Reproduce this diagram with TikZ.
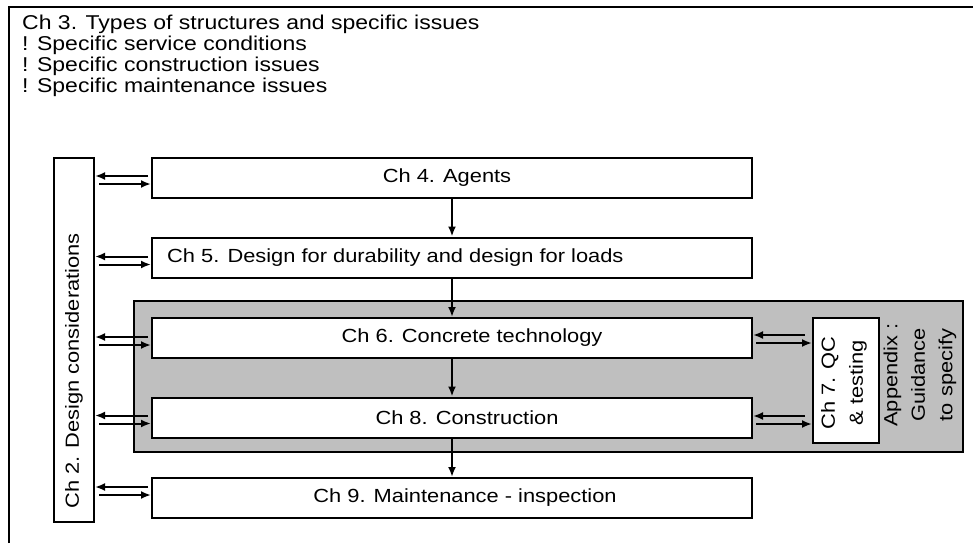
\documentclass[tikz,border=0pt]{standalone}
\usepackage{fontspec}
\setmainfont[FakeStretch=1.15]{Liberation Sans}
\usetikzlibrary{arrows.meta}

\tikzset{
  chbox/.style={draw, line width=2pt, fill=white, minimum width=600, minimum height=40, inner sep=0},
  chtext/.style={font=\fontsize{19}{22}\selectfont, inner sep=0},
  arr/.style={line width=2pt, -{Latex[length=10pt,width=8pt]}}
}

\begin{document}
\begin{tikzpicture}[x=1pt,y=-1pt]
  \useasboundingbox (0,0) rectangle (973,543);
  % outer frame, cut off at the page edges
  \draw[line width=2pt] (9,543) -- (9,7) -- (973,7);
  \node[chtext, anchor=north west, align=left, font=\fontsize{20}{21}\selectfont] (ch3) at (22,15)
    {Ch 3. Types of structures and specific issues\\! Specific service conditions\\! Specific construction issues\\! Specific maintenance issues};

  % grey block round ch 6 and ch 8
  \node[draw, line width=2pt, fill=black!25, minimum width=829, minimum height=151] (grey) at (548.5,376.5) {};

  \node[draw, line width=2pt, fill=white, minimum width=40, minimum height=364] (ch2) at (74,340) {};
  \node[chtext, rotate=90] (ch2t) at (74,371) {Ch 2. Design considerations};

  \node[chbox] (ch4) at (452,178) {};
  \node[chbox] (ch5) at (452,257.5) {};
  \node[chbox] (ch6) at (452,338) {};
  \node[chbox] (ch8) at (452,417.5) {};
  \node[chbox] (ch9) at (452,498) {};
  \node[chtext] (ch4t) at (447,178) {Ch 4. Agents};
  \node[chtext, anchor=west] (ch5t) at (167,257.5) {Ch 5. Design for durability and design for loads};
  \node[chtext] (ch6t) at (472,338) {Ch 6. Concrete technology};
  \node[chtext] (ch8t) at (467,417.5) {Ch 8. Construction};
  \node[chtext] (ch9t) at (465,498) {Ch 9. Maintenance - inspection};

  \node[draw, line width=2pt, fill=white, minimum width=66, minimum height=125] (ch7) at (846,380.5) {};
  \node[chtext, rotate=90, align=center, font=\fontsize{19}{28}\selectfont] (ch7t) at (844,383) {Ch 7. QC\\\& testing};
  \node[chtext, rotate=90, align=center, font=\fontsize{19}{27.5}\selectfont] (app) at (920,375) {Appendix :\\Guidance\\to specify};

  % arrows to and from ch 2
  \foreach \b/\u in {ch4/2, ch5/1, ch6/1, ch8/2, ch9/11} {
    \draw[arr] ([xshift=-3, yshift=\u]\b.west) -- ([yshift=\u]\b.west -| ch2.east);
    \draw[arr] ([xshift=4, yshift=\u-8]\b.west -| ch2.east) -- ([yshift=\u-8]\b.west);
  }
  % arrows to and from ch 7
  \foreach \b/\u in {ch6/3, ch8/1.5} {
    \draw[arr] ([xshift=-7, yshift=\u]\b.east -| ch7.west) -- ([yshift=\u]\b.east);
    \draw[arr] ([xshift=3, yshift=\u-8]\b.east) -- ([yshift=\u-8]\b.east -| ch7.west);
  }
  % the chain down
  \draw[arr] (ch4.south) -- (ch5.north);
  \draw[arr] (ch5.south) -- (ch6.north);
  \draw[arr] (ch6.south) -- (ch8.north);
  \draw[arr] (ch8.south) -- (ch9.north);
\end{tikzpicture}
\end{document}
